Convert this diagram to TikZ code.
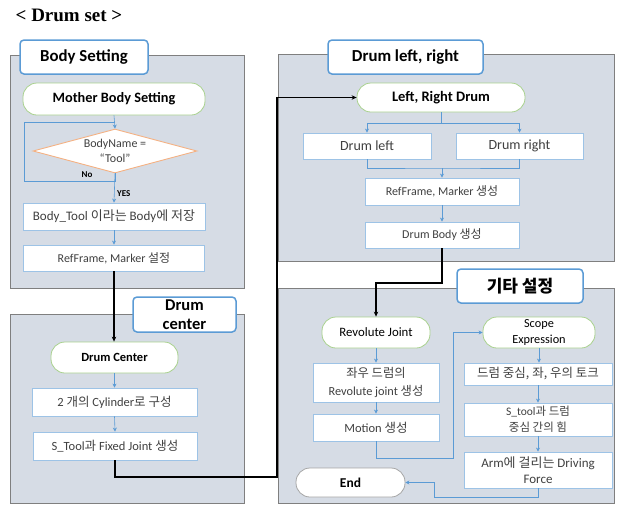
\documentclass[tikz,border=0pt]{standalone}
\usepackage{fontspec}
\setmainfont{Carlito}
\newfontfamily\krfont{Noto Sans CJK KR}
\newfontfamily\titlefont{Liberation Serif}
\newcommand{\kt}[1]{{\krfont #1}}
\usetikzlibrary{shapes.geometric,arrows.meta,shadows}
\definecolor{panelfill}{HTML}{D6DCE5}
\definecolor{panelline}{HTML}{7F7F7F}
\definecolor{tabline}{HTML}{5B9BD5}
\definecolor{greenline}{HTML}{A9D18E}
\definecolor{boxline}{HTML}{9DC3E6}
\definecolor{orangeline}{HTML}{F4B183}
\definecolor{bluearrow}{HTML}{5B9BD5}
\definecolor{txt}{HTML}{404040}
\tikzset{
  panel/.style={draw=panelline, line width=0.9pt, fill=panelfill,
    drop shadow={shadow xshift=1.3pt, shadow yshift=-1.3pt, fill=black!50, opacity=1}},
  tabbox/.style={draw=tabline, line width=1.5pt, fill=white, rounded corners=4pt,
    inner sep=1pt, align=center, font=\bfseries\fontsize{16.8}{18}\selectfont},
  stadium/.style={draw=greenline, line width=0.8pt, fill=white, rounded corners=14pt,
    inner sep=1pt, align=center, text=black},
  procbox/.style={draw=boxline, line width=0.8pt, fill=white, inner sep=1pt,
    align=center, text=txt, font=\fontsize{12.5}{14}\selectfont},
  decision/.style={diamond, draw=orangeline, line width=0.9pt, fill=white, aspect=3.7,
    inner sep=-1pt, align=center, text=txt, font=\fontsize{12}{15}\selectfont},
  bluearr/.style={draw=bluearrow, line width=0.6pt, -{Stealth[length=4pt,width=4pt]}},
  blueline/.style={draw=bluearrow, line width=0.6pt},
  blackarr/.style={draw=black, line width=1.1pt, -{Stealth[length=5pt,width=4.5pt]}},
  lbl/.style={font=\bfseries\fontsize{9}{10}\selectfont, text=black, inner sep=0pt}
}
\begin{document}
\begin{tikzpicture}[x=1pt,y=-1pt]
\useasboundingbox (0,0) rectangle (619,504);

% title
\node (title) at (69,15) {\titlefont\bfseries\fontsize{19}{20}\selectfont < Drum set >};

% panels
\draw[panel] (10,55) rectangle (244,288);
\draw[panel] (10,314) rectangle (244,503);
\draw[panel] (278,54) rectangle (614,261);
\draw[panel] (278,288) rectangle (614,503);

% tabs
\node[tabbox, minimum width=128pt, minimum height=34pt] (tabBS) at (84,57) {Body Setting};
\node[tabbox, minimum width=103pt, minimum height=35pt, font=\bfseries\fontsize{16.5}{19}\selectfont] (tabDC) at (184.5,314.5) {Drum\\center};
\node[tabbox, minimum width=155pt, minimum height=34pt] (tabLR) at (405.5,57) {Drum left, right};
\node[tabbox, minimum width=126pt, minimum height=34pt, font=\krfont\bfseries\fontsize{17}{18}\selectfont] (tabETC) at (520,286) {기타 설정};

% Body setting
\node[stadium, minimum width=182pt, minimum height=32pt, font=\bfseries\fontsize{14.3}{15}\selectfont] (mbs) at (114,99) {Mother Body Setting};
\node[decision, minimum width=164pt, minimum height=44pt] (dia) at (115,151) {BodyName =\\“Tool”};
\node[procbox, minimum width=182pt, minimum height=27pt, font=\fontsize{13}{14}\selectfont] (b1) at (114,216.5) {Body\_Tool \kt{이라는} Body\kt{에 저장}};
\node[procbox, minimum width=181pt, minimum height=26pt, font=\fontsize{12}{13}\selectfont] (b2) at (114,258) {RefFrame, Marker \kt{설정}};
\coordinate (loopBL) at (24,181);
\coordinate (loopTL) at (24,122);
\node[lbl] (no) at (87,175) {No};
\node[lbl, anchor=west] (yes) at (117,194) {YES};

% Drum center
\node[stadium, minimum width=127pt, minimum height=31pt, font=\bfseries\fontsize{12.5}{14}\selectfont] (dc) at (114.5,357.5) {Drum Center};
\node[procbox, minimum width=165pt, minimum height=28pt] (cyl) at (114.5,402) {2 \kt{개의} Cylinder\kt{로 구성}};
\node[procbox, minimum width=164pt, minimum height=28pt] (stool) at (115,446) {S\_Tool\kt{과} Fixed Joint \kt{생성}};

% Drum left right
\node[stadium, minimum width=168pt, minimum height=29pt, font=\bfseries\fontsize{14.5}{16}\selectfont] (lr) at (441,97.5) {Left, Right Drum};
\node[procbox, minimum width=128pt, minimum height=26pt, font=\fontsize{14}{15}\selectfont] (dl) at (367,146) {Drum left};
\node[procbox, minimum width=127pt, minimum height=26pt, font=\fontsize{14}{15}\selectfont] (dr) at (519.5,146) {Drum right};
\node[procbox, minimum width=154pt, minimum height=27pt, font=\fontsize{12}{13}\selectfont] (rfm) at (442,191.5) {RefFrame, Marker \kt{생성}};
\node[procbox, minimum width=154pt, minimum height=26pt, font=\fontsize{12}{13}\selectfont] (dbody) at (442,235) {Drum Body \kt{생성}};

% etc
\node[stadium, minimum width=108pt, minimum height=31pt, font=\fontsize{12.8}{14}\selectfont] (rj) at (376,332.5) {Revolute Joint};
\node[procbox, minimum width=126pt, minimum height=39pt, font=\fontsize{12.3}{18}\selectfont] (lrj) at (376,382.5) {\kt{좌우 드럼의}\\Revolute joint \kt{생성}};
\node[procbox, minimum width=126pt, minimum height=27pt] (mot) at (376,427.5) {Motion \kt{생성}};
\node[stadium, minimum width=112pt, minimum height=31pt, font=\fontsize{12.3}{16}\selectfont] (se) at (539,332.5) {Scope\\Expression};
\node[procbox, minimum width=148pt, minimum height=22pt, font=\fontsize{12.5}{13}\selectfont] (tq) at (538,374) {\kt{드럼 중심, 좌, 우의 토크}};
\node[procbox, minimum width=148pt, minimum height=33pt, font=\fontsize{11.5}{16}\selectfont] (force) at (538,419.5) {S\_tool\kt{과 드럼}\\\kt{중심 간의 힘}};
\node[procbox, minimum width=148pt, minimum height=36pt, font=\fontsize{13}{16}\selectfont] (arm) at (538,470) {Arm\kt{에 걸리는} Driving\\Force};
\node[stadium, draw=black!35, minimum width=109pt, minimum height=29pt, font=\bfseries\fontsize{13.5}{15}\selectfont] (endn) at (350.5,482.5) {End};

% connectors: body setting
\draw[bluearr] (mbs.south) -- (dia.north);
\draw[blueline] (dia.south) -- (dia.south |- loopBL) -- (loopBL) -- (loopTL) -- (loopTL -| dia.north);
\draw[bluearr] (dia.south) -- (b1.north);
\draw[bluearr] (b1.south) -- (b2.south |- b2.north);
\draw[blackarr] (b2.south) -- (b2.south |- dc.north);

% drum center
\draw[bluearr] (dc.south) -- (cyl.north);
\draw[bluearr] (cyl.south) -- (stool.north);
\coordinate (c1) at (115,477);
\coordinate (c2) at (277,477);
\coordinate (c3) at (277,97.5);
\draw[blackarr] (stool.south) -- (c1) -- (c2) -- (c3) -- (lr.west);

% drum left right
\coordinate (split) at (441,123);
\draw[blueline] (lr.south) -- (split);
\draw[bluearr] (split) -| (dl.north);
\draw[bluearr] (split) -| (dr.north);
\coordinate (merge) at (442,168);
\draw[blueline] (dl.south) |- (merge) -| (dr.south);
\draw[bluearr] (merge) -- (rfm.north);
\draw[bluearr] (rfm.south) -- (dbody.north);
\coordinate (jog) at (376,283);
\draw[blackarr] (dbody.south) |- (jog) -- (rj.north);

% etc
\draw[bluearr] (rj.south) -- (lrj.north);
\draw[bluearr] (lrj.south) -- (mot.north);
\coordinate (m1) at (376,458);
\coordinate (m2) at (453,458);
\coordinate (m3) at (453,332.5);
\draw[bluearr] (mot.south) -- (m1) -- (m2) -- (m3) -- (se.west);
\draw[bluearr] (se.south) -- (se.south |- tq.north);
\draw[bluearr] (tq.south) -- (force.north);
\draw[bluearr] (force.south) -- (arm.north);
\coordinate (e1) at (538,497);
\coordinate (e2) at (434,497);
\coordinate (e3) at (434,482.5);
\draw[bluearr] (arm.south) -- (e1) -- (e2) -- (e3) -- (endn.east);
\end{tikzpicture}
\end{document}
